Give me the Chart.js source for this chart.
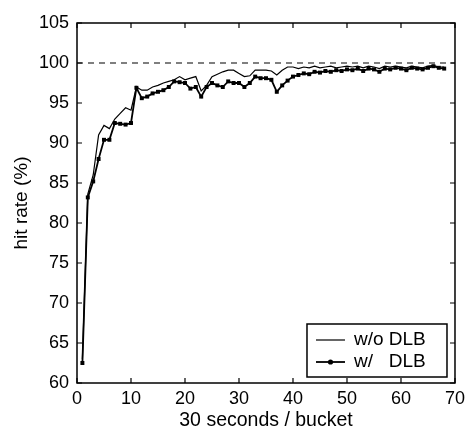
<!DOCTYPE html>
<html>
<head>
<meta charset="utf-8">
<script src="https://cdn.jsdelivr.net/npm/chart.js@4.4.1/dist/chart.umd.min.js"></script>
<style>
  html, body { margin: 0; padding: 0; background: #ffffff; }
  #wrap { width: 470px; height: 436px; position: relative; }
</style>
</head>
<body>
<div id="wrap"><canvas id="c" width="470" height="436"></canvas></div>
<script>
// ---- data ----
const buckets = [1,2,3,4,5,6,7,8,9,10,11,12,13,14,15,16,17,18,19,20,
  21,22,23,24,25,26,27,28,29,30,31,32,33,34,35,36,37,38,39,40,
  41,42,43,44,45,46,47,48,49,50,51,52,53,54,55,56,57,58,59,60,
  61,62,63,64,65,66,67,68];
const hitWithoutDLB = [63.0,83.6,86.0,91.0,92.2,91.8,93.0,93.7,94.4,94.1,
  97.0,96.6,96.6,97.0,97.2,97.5,97.7,97.9,98.3,97.9,
  98.1,98.3,96.5,97.2,98.3,98.6,98.9,99.1,99.1,98.7,
  98.3,98.4,99.1,99.1,99.1,99.0,98.5,99.1,99.5,99.5,
  99.3,99.5,99.4,99.6,99.4,99.5,99.6,99.4,99.5,99.6,
  99.5,99.6,99.4,99.6,99.5,99.3,99.6,99.5,99.6,99.5,
  99.4,99.6,99.5,99.4,99.6,99.7,99.5,99.5];
const hitWithDLB = [62.5,83.2,85.2,88.0,90.4,90.4,92.5,92.4,92.3,92.5,
  96.9,95.6,95.8,96.2,96.4,96.6,97.0,97.7,97.6,97.5,
  96.8,97.0,95.8,97.0,97.5,97.2,97.0,97.7,97.5,97.5,
  97.0,97.5,98.3,98.1,98.1,97.9,96.4,97.2,97.8,98.3,
  98.5,98.7,98.6,98.9,98.8,99.0,98.9,99.1,99.0,99.2,
  99.1,99.3,99.0,99.3,99.2,98.9,99.3,99.2,99.4,99.3,
  99.1,99.4,99.3,99.2,99.4,99.6,99.4,99.3];
const referenceLevel = [100, 100];
const referenceSpan = [0, 70];
const xTicks = [0,10,20,30,40,50,60,70];
const yTicks = [60,65,70,75,80,85,90,95,100,105];
const seriesLabels = ['w/o DLB', 'w/  DLB'];
const xTitle = '30 seconds / bucket';
const yTitle = 'hit rate (%)';

const FONT = '"Liberation Sans", Arial, Helvetica, sans-serif';
const toXY = (xs, ys) => xs.map((x, i) => ({x: x, y: ys[i]}));

// inward ticks + frame
const framePlugin = {
  id: 'frame',
  afterDatasetsDraw(chart) {
    const {ctx, chartArea: a, scales} = chart;
    ctx.save();
    ctx.strokeStyle = '#000';
    ctx.lineWidth = 1.5;
    ctx.strokeRect(a.left, a.top, a.right - a.left, a.bottom - a.top);
    ctx.lineWidth = 1.2;
    const L = 5;
    ctx.beginPath();
    xTicks.forEach(v => {
      const px = scales.x.getPixelForValue(v);
      ctx.moveTo(px, a.bottom); ctx.lineTo(px, a.bottom - L);
      ctx.moveTo(px, a.top); ctx.lineTo(px, a.top + L);
    });
    yTicks.forEach(v => {
      const py = scales.y.getPixelForValue(v);
      ctx.moveTo(a.left, py); ctx.lineTo(a.left + L, py);
      ctx.moveTo(a.right, py); ctx.lineTo(a.right - L, py);
    });
    ctx.stroke();
    ctx.restore();
  }
};

// boxed legend inside the plot, lower right
const legendPlugin = {
  id: 'boxLegend',
  afterDraw(chart) {
    const {ctx, chartArea: a} = chart;
    const w = 140, h = 53;
    const x0 = a.right - 8 - w, y0 = a.bottom - 6 - h;
    ctx.save();
    ctx.fillStyle = '#fff';
    ctx.fillRect(x0, y0, w, h);
    ctx.strokeStyle = '#000';
    ctx.lineWidth = 1.5;
    ctx.strokeRect(x0, y0, w, h);
    const rows = [y0 + 16, y0 + 38];
    ctx.font = '19px ' + FONT;
    ctx.textBaseline = 'middle';
    ctx.fillStyle = '#000';
    const textX = x0 + 47;
    const first = chart.data.datasets[0].label;
    const tailX = textX + ctx.measureText(first.split(/\s+/)[0] + ' ').width;
    chart.data.datasets.slice(0, 2).forEach((ds, i) => {
      const y = rows[i];
      ctx.lineWidth = ds.borderWidth;
      ctx.beginPath();
      ctx.moveTo(x0 + 9, y); ctx.lineTo(x0 + 38, y);
      ctx.stroke();
      if (ds.pointRadius > 0) {
        ctx.beginPath();
        ctx.arc(x0 + 23.5, y, 2.6, 0, Math.PI * 2);
        ctx.fill();
      }
      const parts = ds.label.split(/\s+/);
      ctx.fillText(parts[0], textX, y);
      ctx.fillText(parts[1], tailX, y);
    });
    ctx.restore();
  }
};

new Chart(document.getElementById('c'), {
  type: 'line',
  data: {
    datasets: [
      {
        label: seriesLabels[0],
        data: toXY(buckets, hitWithoutDLB),
        borderColor: '#000',
        borderWidth: 1.2,
        pointRadius: 0,
        tension: 0,
        fill: false
      },
      {
        label: seriesLabels[1],
        data: toXY(buckets, hitWithDLB),
        borderColor: '#000',
        backgroundColor: '#000',
        borderWidth: 1.8,
        pointStyle: 'rect',
        pointRadius: 2.8,
        pointBorderWidth: 0,
        pointBackgroundColor: '#000',
        tension: 0,
        fill: false
      },
      {
        label: 'reference',
        data: toXY(referenceSpan, referenceLevel),
        borderColor: '#000',
        borderWidth: 1.1,
        borderDash: [6, 5],
        pointRadius: 0,
        fill: false
      }
    ]
  },
  options: {
    responsive: false,
    animation: false,
    events: [],
    layout: { padding: { top: 23, right: 12, bottom: 0, left: 0 } },
    plugins: { legend: { display: false }, tooltip: { enabled: false } },
    scales: {
      x: {
        type: 'linear',
        min: 0, max: 70,
        afterFit: s => { s.height = 53; },
        afterBuildTicks: s => { s.ticks = xTicks.map(v => ({value: v})); },
        grid: { display: false, drawTicks: false },
        border: { display: false },
        ticks: { color: '#000', font: { family: FONT, size: 18 }, padding: 5, maxRotation: 0 },
        title: { display: true, text: xTitle, color: '#000', font: { family: FONT, size: 19.5 }, padding: { top: 0, bottom: 4 } }
      },
      y: {
        min: 60, max: 105,
        afterFit: s => { s.width = 77; },
        afterBuildTicks: s => { s.ticks = yTicks.map(v => ({value: v})); },
        grid: { display: false, drawTicks: false },
        border: { display: false },
        ticks: { color: '#000', font: { family: FONT, size: 18 }, padding: 8 },
        title: { display: true, text: yTitle, color: '#000', font: { family: FONT, size: 19 }, padding: { top: 10, bottom: 0 } }
      }
    }
  },
  plugins: [framePlugin, legendPlugin]
});
</script>
</body>
</html>
